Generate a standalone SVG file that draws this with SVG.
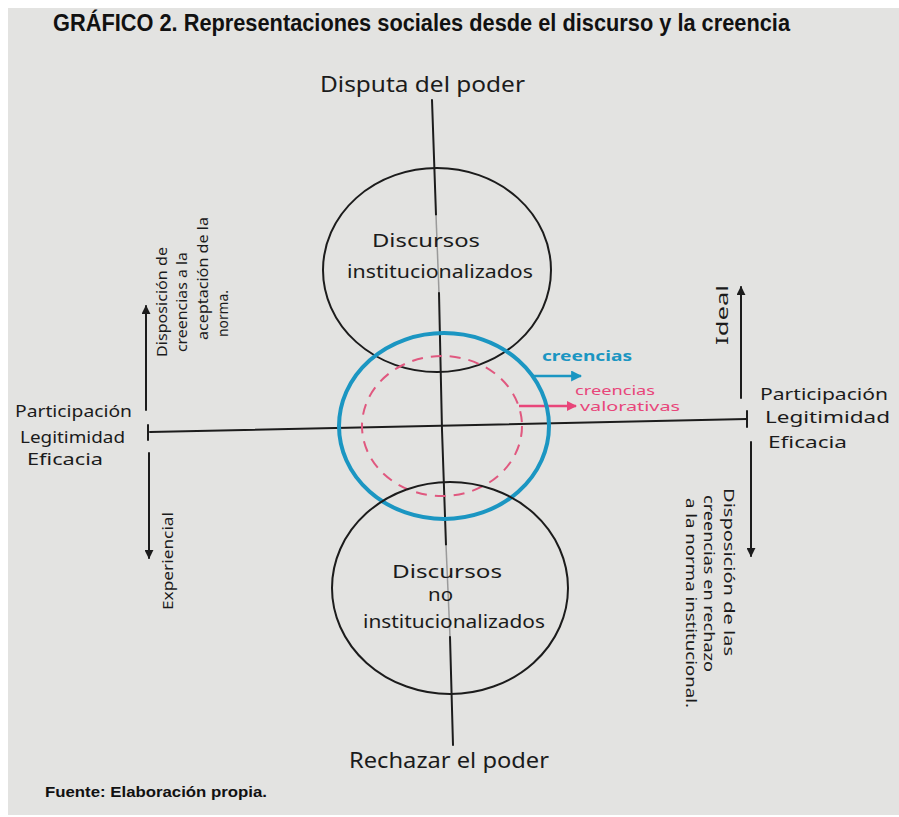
<svg xmlns="http://www.w3.org/2000/svg" width="899" height="817" viewBox="0 0 899 817">
  <defs>
    <style>
      .hand { font-family: "Noto Sans", "DejaVu Sans", sans-serif; fill: #1b1b1b; }
      .head { font-family: "Liberation Sans", Arial, sans-serif; font-weight: bold; fill: #111; }
      .ink { fill: none; stroke: #1c1c1c; stroke-width: 2; stroke-linecap: round; }
      .faint { fill: none; stroke: #9a9a9a; stroke-width: 1.5; }
      .blue { fill: none; stroke: #1b96c2; stroke-width: 4; }
      .pink { fill: none; stroke: #e0587f; stroke-width: 2; stroke-dasharray: 11 8; }
      .arrow { marker-end: url(#head-black); }
    </style>
    <marker id="head-black" viewBox="0 0 10 10" refX="9" refY="5" markerWidth="9" markerHeight="9" markerUnits="userSpaceOnUse" orient="auto">
      <path d="M0,0 L10,5 L0,10 z" fill="#1c1c1c"/>
    </marker>
    <marker id="head-blue" viewBox="0 0 10 10" refX="9" refY="5" markerWidth="11" markerHeight="11" markerUnits="userSpaceOnUse" orient="auto">
      <path d="M0,0 L10,5 L0,10 z" fill="#1b96c2"/>
    </marker>
    <marker id="head-pink" viewBox="0 0 10 10" refX="9" refY="5" markerWidth="10" markerHeight="10" markerUnits="userSpaceOnUse" orient="auto">
      <path d="M0,0 L10,5 L0,10 z" fill="#e8467a"/>
    </marker>
  </defs>

  <!-- paper -->
  <rect x="0" y="0" width="899" height="817" fill="#ffffff"/>
  <rect x="8" y="8" width="891" height="807" fill="#e3e3e1"/>

  <!-- heading -->
  <text class="head" x="53" y="31" font-size="23" textLength="737" lengthAdjust="spacingAndGlyphs">GRÁFICO 2. Representaciones sociales desde el discurso y la creencia</text>

  <!-- axes and arrows -->
  <g id="connectors">
    <!-- vertical axis, pencil fades behind the circle labels -->
    <polyline class="ink" points="432,100 436,215"/>
    <polyline class="faint" points="436,215 439,293"/>
    <polyline class="ink" points="439,293 442,430 446,545"/>
    <polyline class="faint" points="446,545 450,637"/>
    <polyline class="ink" points="450,637 453,745"/>
    <!-- horizontal axis -->
    <line class="ink" x1="150" y1="432" x2="747" y2="419"/>
    <line class="ink" x1="148" y1="425" x2="148" y2="440" stroke-width="3"/>
    <line class="ink" x1="747" y1="411" x2="747" y2="427" stroke-width="3"/>
    <!-- left side arrows -->
    <line class="ink arrow" x1="146" y1="410" x2="146" y2="306"/>
    <line class="ink arrow" x1="149" y1="453" x2="149" y2="558"/>
    <!-- right side arrows -->
    <line class="ink arrow" x1="741" y1="398" x2="741" y2="287"/>
    <line class="ink arrow" x1="751" y1="442" x2="751" y2="556"/>
    <!-- belief pointers -->
    <line x1="532" y1="376" x2="581" y2="376" stroke="#1b96c2" stroke-width="2.5" marker-end="url(#head-blue)"/>
    <line x1="519" y1="406" x2="576" y2="406" stroke="#e8467a" stroke-width="2.5" marker-end="url(#head-pink)"/>
  </g>

  <!-- institutionalised discourses -->
  <g id="discursos-institucionalizados">
    <ellipse class="ink" cx="437" cy="270" rx="114" ry="102"/>
    <text class="hand" x="372" y="247" font-size="18" textLength="108" lengthAdjust="spacingAndGlyphs">Discursos</text>
    <text class="hand" x="347" y="278" font-size="18" textLength="186" lengthAdjust="spacingAndGlyphs">institucionalizados</text>
  </g>

  <!-- beliefs -->
  <g id="creencias">
    <ellipse class="blue" cx="444" cy="426" rx="105" ry="93"/>
    <text x="542" y="361" font-family="'Noto Sans', 'DejaVu Sans', sans-serif" font-size="15" font-weight="bold" fill="#1b96c2" textLength="90" lengthAdjust="spacingAndGlyphs">creencias</text>
  </g>

  <!-- evaluative beliefs -->
  <g id="creencias-valorativas">
    <ellipse class="pink" cx="442" cy="426" rx="80" ry="70"/>
    <text x="575" y="395" font-family="'Noto Sans', 'DejaVu Sans', sans-serif" font-size="12" fill="#e8467a" textLength="80" lengthAdjust="spacingAndGlyphs">creencias</text>
    <text x="580" y="411" font-family="'Noto Sans', 'DejaVu Sans', sans-serif" font-size="12" fill="#e8467a" textLength="100" lengthAdjust="spacingAndGlyphs">valorativas</text>
  </g>

  <!-- non-institutionalised discourses -->
  <g id="discursos-no-institucionalizados">
    <ellipse class="ink" cx="450" cy="588" rx="118" ry="106"/>
    <text class="hand" x="392" y="578" font-size="18" textLength="110" lengthAdjust="spacingAndGlyphs">Discursos</text>
    <text class="hand" x="428" y="601" font-size="18" textLength="25" lengthAdjust="spacingAndGlyphs">no</text>
    <text class="hand" x="363" y="628" font-size="18" textLength="182" lengthAdjust="spacingAndGlyphs">institucionalizados</text>
  </g>

  <!-- vertical axis poles -->
  <g id="disputa-del-poder">
    <text class="hand" x="320" y="92" font-size="22" textLength="205" lengthAdjust="spacingAndGlyphs">Disputa del poder</text>
  </g>
  <g id="rechazar-el-poder">
    <text class="hand" x="349" y="768" font-size="22" textLength="200" lengthAdjust="spacingAndGlyphs">Rechazar el poder</text>
  </g>

  <!-- left pole -->
  <g id="polo-izquierdo">
    <text class="hand" x="15" y="417" font-size="16" textLength="117" lengthAdjust="spacingAndGlyphs">Participación</text>
    <text class="hand" x="20" y="443" font-size="16" textLength="105" lengthAdjust="spacingAndGlyphs">Legitimidad</text>
    <text class="hand" x="27" y="465" font-size="16" textLength="76" lengthAdjust="spacingAndGlyphs">Eficacia</text>
  </g>
  <g id="aceptacion-norma">
    <text class="hand" transform="translate(167,357) rotate(-90)" font-size="14" textLength="110" lengthAdjust="spacingAndGlyphs">Disposición de</text>
    <text class="hand" transform="translate(187,352) rotate(-90)" font-size="14" textLength="100" lengthAdjust="spacingAndGlyphs">creencias a la</text>
    <text class="hand" transform="translate(208,340) rotate(-90)" font-size="14" textLength="123" lengthAdjust="spacingAndGlyphs">aceptación de la</text>
    <text class="hand" transform="translate(228,337) rotate(-90)" font-size="14" textLength="47" lengthAdjust="spacingAndGlyphs">norma.</text>
  </g>
  <g id="experiencial">
    <text class="hand" transform="translate(173,610) rotate(-90)" font-size="15" textLength="98" lengthAdjust="spacingAndGlyphs">Experiencial</text>
  </g>

  <!-- right pole -->
  <g id="polo-derecho">
    <text class="hand" x="760" y="400" font-size="17" textLength="128" lengthAdjust="spacingAndGlyphs">Participación</text>
    <text class="hand" x="765" y="423" font-size="17" textLength="125" lengthAdjust="spacingAndGlyphs">Legitimidad</text>
    <text class="hand" x="768" y="448" font-size="17" textLength="79" lengthAdjust="spacingAndGlyphs">Eficacia</text>
  </g>
  <g id="ideal">
    <text class="hand" transform="translate(728,345) rotate(-90)" font-size="17" textLength="60" lengthAdjust="spacingAndGlyphs">Ideal</text>
  </g>
  <g id="rechazo-norma">
    <text class="hand" transform="translate(724,488) rotate(90)" font-size="14" textLength="168" lengthAdjust="spacingAndGlyphs">Disposición de las</text>
    <text class="hand" transform="translate(704,495) rotate(90)" font-size="14" textLength="177" lengthAdjust="spacingAndGlyphs">creencias en rechazo</text>
    <text class="hand" transform="translate(686,498) rotate(90)" font-size="14" textLength="210" lengthAdjust="spacingAndGlyphs">a la norma institucional.</text>
  </g>

  <!-- source line -->
  <text class="head" x="45" y="797" font-size="15" textLength="222" lengthAdjust="spacingAndGlyphs">Fuente: Elaboración propia.</text>
</svg>
